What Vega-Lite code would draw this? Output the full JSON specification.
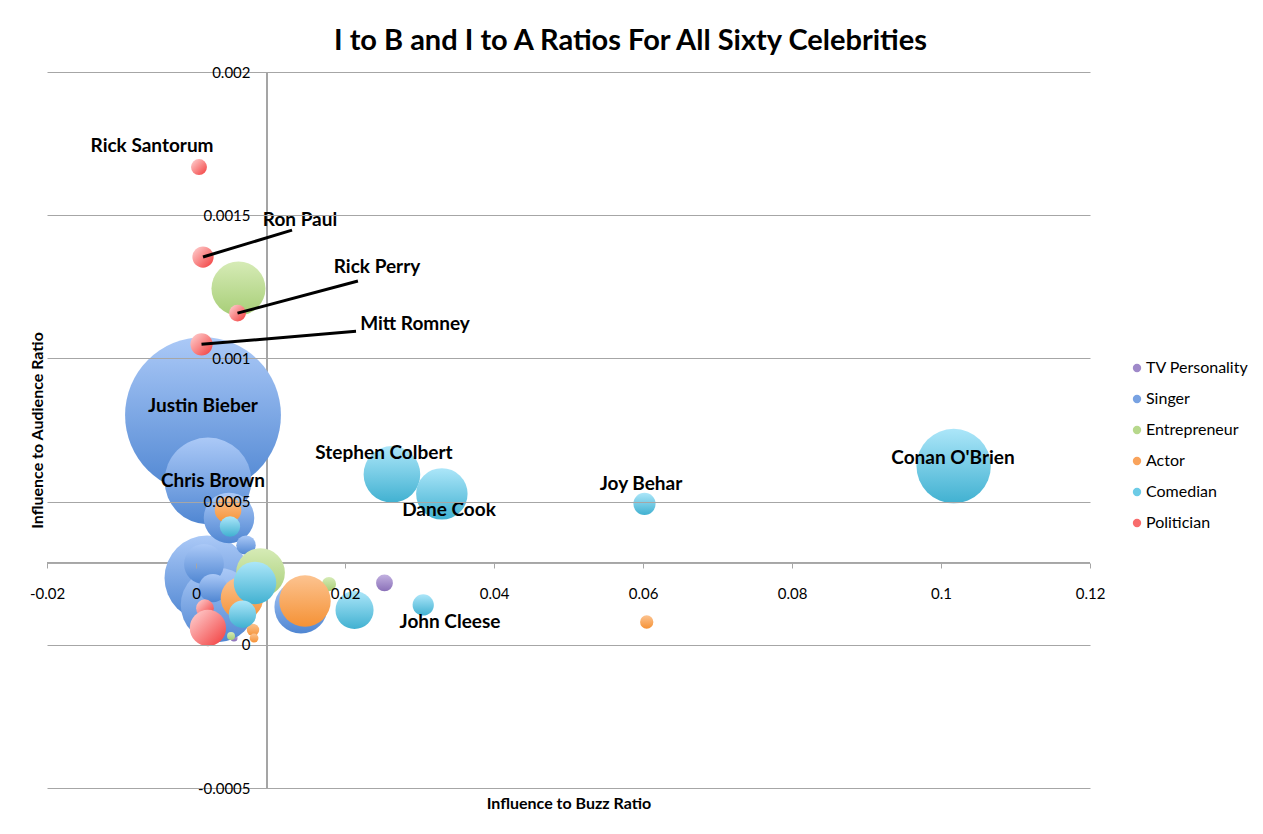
{
  "$schema": "https://vega.github.io/schema/vega-lite/v6.json",
  "width": 1043,
  "height": 716,
  "autosize": "none",
  "padding": {"left": 47, "top": 72, "right": 173, "bottom": 46},
  "background": "#ffffff",
  "config": {
    "font": "Lato",
    "view": {"stroke": null},
    "axis": {"labelFont": "Lato", "titleFont": "Lato", "labelColor": "#000000", "titleColor": "#000000"}
  },
  "title": {
    "text": "I to B and I to A Ratios For All Sixty Celebrities",
    "font": "Lato",
    "fontSize": 29,
    "fontWeight": "bold",
    "color": "#000000",
    "anchor": "middle",
    "frame": "group",
    "baseline": "alphabetic",
    "dx": 62,
    "dy": 28,
    "offset": 14
  },
  "datasets": {
    "celebs": [
      {"type": "TV Personality", "x": 0.0253, "y": 0.000216, "size": 1.17},
      {"type": "TV Personality", "x": 0.0051, "y": 0.000024, "size": 0.21},
      {"name": "Justin Bieber", "type": "Singer", "x": 0.00094, "y": 0.000802, "size": 100, "labelX": 0.00094, "labelY": 0.000833},
      {"name": "Chris Brown", "type": "Singer", "x": 0.00161, "y": 0.000572, "size": 31.0, "labelX": 0.00228, "labelY": 0.000572},
      {"type": "Singer", "x": 0.00148, "y": 0.000233, "size": 29.75},
      {"type": "Singer", "x": 0.00295, "y": 0.000139, "size": 22.8},
      {"type": "Singer", "x": 0.01409, "y": 0.000132, "size": 11.6},
      {"type": "Singer", "x": 0.00443, "y": 0.000443, "size": 10.5},
      {"type": "Singer", "x": 0.00107, "y": 0.000282, "size": 6.54},
      {"type": "Singer", "x": 0.00228, "y": 0.000198, "size": 3.31},
      {"type": "Singer", "x": 0.00671, "y": 0.000348, "size": 1.56},
      {"type": "Entrepreneur", "x": 0.0057, "y": 0.001244, "size": 12.0},
      {"type": "Entrepreneur", "x": 0.00866, "y": 0.000252, "size": 9.77},
      {"type": "Entrepreneur", "x": 0.01785, "y": 0.000212, "size": 0.83},
      {"type": "Entrepreneur", "x": 0.0047, "y": 0.0000307, "size": 0.26},
      {"type": "Actor", "x": 0.01463, "y": 0.000153, "size": 10.9},
      {"type": "Actor", "x": 0.00617, "y": 0.000163, "size": 7.44},
      {"type": "Actor", "x": 0.0043, "y": 0.000471, "size": 2.91},
      {"type": "Actor", "x": 0.0605, "y": 0.0000796, "size": 0.73},
      {"type": "Actor", "x": 0.00765, "y": 0.0000517, "size": 0.63},
      {"type": "Actor", "x": 0.00779, "y": 0.0000237, "size": 0.32},
      {"name": "Conan O'Brien", "type": "Comedian", "x": 0.1017, "y": 0.000624, "size": 22.8, "labelX": 0.10161, "labelY": 0.000652},
      {"name": "Stephen Colbert", "type": "Comedian", "x": 0.0263, "y": 0.000595, "size": 13.2, "labelX": 0.02523, "labelY": 0.00067},
      {"name": "Dane Cook", "type": "Comedian", "x": 0.033, "y": 0.000527, "size": 10.9, "labelX": 0.03396, "labelY": 0.000471},
      {"type": "Comedian", "x": 0.00792, "y": 0.000216, "size": 7.44},
      {"type": "Comedian", "x": 0.02128, "y": 0.0001215, "size": 5.97},
      {"type": "Comedian", "x": 0.00624, "y": 0.000107, "size": 3.1},
      {"name": "Joy Behar", "type": "Comedian", "x": 0.0602, "y": 0.000492, "size": 2.02, "labelX": 0.05973, "labelY": 0.000561},
      {"name": "John Cleese", "type": "Comedian", "x": 0.0305, "y": 0.000139, "size": 1.86, "labelX": 0.03409, "labelY": 0.0000796},
      {"type": "Comedian", "x": 0.00456, "y": 0.000413, "size": 1.71},
      {"type": "Politician", "x": 0.0012, "y": 0.000128, "size": 1.29},
      {"type": "Politician", "x": 0.0016, "y": 0.0000587, "size": 5.43},
      {"name": "Mitt Romney", "type": "Politician", "x": 0.00074, "y": 0.001049, "size": 2.02, "labelX": 0.0294, "labelY": 0.001119, "leaderX": 0.02148, "leaderY": 0.001095},
      {"name": "Ron Paul", "type": "Politician", "x": 0.00094, "y": 0.001354, "size": 1.86, "labelX": 0.01396, "labelY": 0.001483, "leaderX": 0.01289, "leaderY": 0.001448},
      {"name": "Rick Perry", "type": "Politician", "x": 0.00557, "y": 0.001158, "size": 1.17, "labelX": 0.0243, "labelY": 0.001319, "leaderX": 0.02174, "leaderY": 0.00127},
      {"name": "Rick Santorum", "type": "Politician", "x": 0.0004, "y": 0.001668, "size": 1.05, "labelX": -0.0059, "labelY": 0.001742}
    ]
  },
  "data": {"name": "celebs"},
  "layer": [
    {
      "mark": {"type": "rule", "color": "#a6a6a6", "strokeWidth": 1},
      "encoding": {"x": {"datum": 0.0095, "type": "quantitative"}}
    },
    {
      "mark": {"type": "rule", "color": "#a6a6a6", "strokeWidth": 1},
      "encoding": {"y": {"datum": 0.000287, "type": "quantitative"}}
    },
    {
      "mark": {"type": "point", "filled": true, "opacity": 0, "strokeWidth": 0},
      "encoding": {
        "x": {
          "field": "x", "type": "quantitative",
          "scale": {"domain": [-0.02, 0.12], "nice": false, "zero": false},
          "axis": {
            "orient": "bottom", "offset": -225,
            "values": [-0.02, 0, 0.02, 0.04, 0.06, 0.08, 0.1, 0.12],
            "format": "~g",
            "labelExpr": "replace(datum.label, '−', '-')",
            "grid": false, "domain": false,
            "ticks": true, "tickSize": 5, "tickColor": "#a6a6a6",
            "labelPadding": 18, "labelFontSize": 15, "labelFlush": false, "labelOverlap": false,
            "title": "Influence to Buzz Ratio", "titleFontSize": 16, "titleFontWeight": "bold",
            "titleY": 240, "titleBaseline": "middle",
            "zindex": 1
          }
        },
        "y": {
          "field": "y", "type": "quantitative",
          "scale": {"domain": [-0.0005, 0.002], "nice": false, "zero": false},
          "axis": {
            "orient": "left", "offset": -220,
            "values": [-0.0005, 0, 0.0005, 0.001, 0.0015, 0.002],
            "format": "~g",
            "labelExpr": "replace(datum.label, '−', '-')",
            "grid": true, "gridColor": "#a6a6a6", "gridWidth": 1,
            "domain": false,
            "ticks": true, "tickSize": 5, "tickColor": "#a6a6a6",
            "labelPadding": 12, "labelFontSize": 15, "labelBaseline": "middle", "labelFlush": false, "labelOverlap": false,
            "title": "Influence to Audience Ratio", "titleFontSize": 16, "titleFontWeight": "bold",
            "titleX": -230, "titleBaseline": "middle",
            "zindex": 1
          }
        },
        "size": {"field": "size", "type": "quantitative", "scale": {"type": "linear", "domain": [0, 100], "range": [0, 24300]}, "legend": null},
        "color": {
          "field": "type", "type": "nominal",
          "scale": {
            "domain": ["TV Personality", "Singer", "Entrepreneur", "Actor", "Comedian", "Politician"],
            "range": ["#9f89c9", "#78a2e2", "#b7d88c", "#f9a35c", "#6ccbe6", "#f86c6c"]
          },
          "legend": {
            "title": null, "orient": "none", "legendX": 1082, "legendY": 288,
            "padding": 0, "symbolType": "circle", "symbolSize": 70, "symbolOpacity": 1, "symbolStrokeWidth": 0,
            "labelFontSize": 16, "labelFont": "Lato", "labelColor": "#000000", "labelOffset": 1, "rowPadding": 15
          }
        }
      }
    },
    {
      "transform": [{"filter": "datum.type == 'TV Personality'"}],
      "mark": {"type": "point", "filled": true, "opacity": 1, "strokeWidth": 0, "fill": {"gradient": "linear", "x1": 0, "y1": 0, "x2": 0, "y2": 1, "stops": [{"offset": 0, "color": "#c2b1e0"}, {"offset": 1, "color": "#8a70b8"}]}},
      "encoding": {"x": {"field": "x", "type": "quantitative"}, "y": {"field": "y", "type": "quantitative"}, "size": {"field": "size", "type": "quantitative"}}
    },
    {
      "transform": [{"filter": "datum.type == 'Singer'"}],
      "mark": {"type": "point", "filled": true, "opacity": 1, "strokeWidth": 0, "fill": {"gradient": "linear", "x1": 0, "y1": 0, "x2": 0, "y2": 1, "stops": [{"offset": 0, "color": "#abc9f7"}, {"offset": 1, "color": "#4f86d2"}]}},
      "encoding": {"x": {"field": "x", "type": "quantitative"}, "y": {"field": "y", "type": "quantitative"}, "size": {"field": "size", "type": "quantitative"}}
    },
    {
      "transform": [{"filter": "datum.type == 'Entrepreneur'"}],
      "mark": {"type": "point", "filled": true, "opacity": 1, "strokeWidth": 0, "fill": {"gradient": "linear", "x1": 0, "y1": 0, "x2": 0, "y2": 1, "stops": [{"offset": 0, "color": "#d6ebb6"}, {"offset": 1, "color": "#a7ce77"}]}},
      "encoding": {"x": {"field": "x", "type": "quantitative"}, "y": {"field": "y", "type": "quantitative"}, "size": {"field": "size", "type": "quantitative"}}
    },
    {
      "transform": [{"filter": "datum.type == 'Actor'"}],
      "mark": {"type": "point", "filled": true, "opacity": 1, "strokeWidth": 0, "fill": {"gradient": "linear", "x1": 0, "y1": 0, "x2": 0, "y2": 1, "stops": [{"offset": 0, "color": "#fcc390"}, {"offset": 1, "color": "#f59236"}]}},
      "encoding": {"x": {"field": "x", "type": "quantitative"}, "y": {"field": "y", "type": "quantitative"}, "size": {"field": "size", "type": "quantitative"}}
    },
    {
      "transform": [{"filter": "datum.type == 'Comedian'"}],
      "mark": {"type": "point", "filled": true, "opacity": 1, "strokeWidth": 0, "fill": {"gradient": "linear", "x1": 0, "y1": 0, "x2": 0, "y2": 1, "stops": [{"offset": 0, "color": "#ace6f9"}, {"offset": 1, "color": "#41b1d1"}]}},
      "encoding": {"x": {"field": "x", "type": "quantitative"}, "y": {"field": "y", "type": "quantitative"}, "size": {"field": "size", "type": "quantitative"}}
    },
    {
      "transform": [{"filter": "datum.type == 'Politician'"}],
      "mark": {"type": "point", "filled": true, "opacity": 1, "strokeWidth": 0, "fill": {"gradient": "linear", "x1": 0, "y1": 0, "x2": 1, "y2": 1, "stops": [{"offset": 0, "color": "#ffd6d6"}, {"offset": 1, "color": "#f23a3a"}]}},
      "encoding": {"x": {"field": "x", "type": "quantitative"}, "y": {"field": "y", "type": "quantitative"}, "size": {"field": "size", "type": "quantitative"}}
    },
    {
      "transform": [{"filter": "isValid(datum.leaderX)"}],
      "mark": {"type": "rule", "color": "#000000", "strokeWidth": 3},
      "encoding": {
        "x": {"field": "x", "type": "quantitative"},
        "y": {"field": "y", "type": "quantitative"},
        "x2": {"field": "leaderX"},
        "y2": {"field": "leaderY"}
      }
    },
    {
      "transform": [{"filter": "isValid(datum.labelX)"}],
      "mark": {"type": "text", "font": "Lato", "fontSize": 19, "fontWeight": "bold", "color": "#000000", "align": "center", "baseline": "middle"},
      "encoding": {
        "x": {"field": "labelX", "type": "quantitative"},
        "y": {"field": "labelY", "type": "quantitative"},
        "text": {"field": "name"}
      }
    }
  ]
}
